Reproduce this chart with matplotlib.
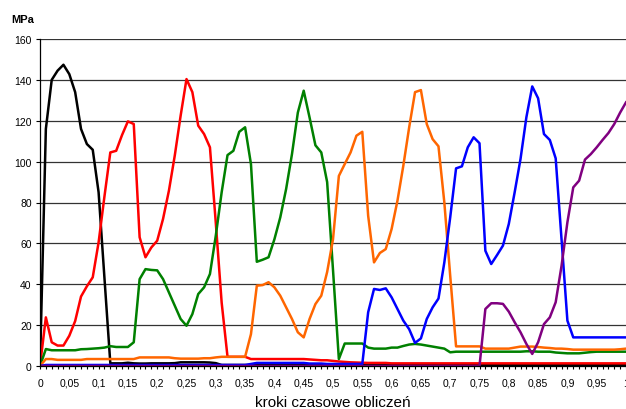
import numpy as np
import matplotlib
matplotlib.use('Agg')
import matplotlib.pyplot as plt
from matplotlib.ticker import FixedLocator, FixedFormatter

plt.rcParams['font.family'] = ['Liberation Sans', 'DejaVu Sans']

# kroki czasowe 0..1 co 0.01
kroki = np.round(np.arange(101) * 0.01, 2)

czarny = [0, 116, 140, 144.5, 147.4, 142.8, 134, 116, 108.6, 105.8,
          85, 43, 1.3, 1.3, 1.3, 1.6, 1.3, 1.2, 1.2, 1.3,
          1.3, 1.3, 1.3, 1.4, 1.8, 1.8, 1.8, 1.8, 1.8, 1.7,
          1.4, 0.5, 0.5, 0.5, 0.5, 0.5, 0.5, 0.5, 0.5, 0.5,
          0.5, 0.5, 0.5, 0.5, 0.5, 0.5, 0.5, 0.5, 0.5, 0.5,
          0.5, 0.5, 0.5, 0.5, 0.5, 0.5, 0.5, 0.5, 0.5, 0.5,
          0.5, 0.5, 0.5, 0.5, 0.5, 0.5, 0.5, 0.5, 0.5, 0.5,
          0.5, 0.5, 0.5, 0.5, 0.5, 0.5, 0.5, 0.5, 0.5, 0.5,
          0.5, 0.5, 0.5, 0.5, 0.5, 0.5, 0.5, 0.5, 0.5, 0.5,
          0.5, 0.5, 0.5, 0.5, 0.5, 0.5, 0.5, 0.5, 0.5, 0.5,
          0.5]

czerwony = [0, 23.8, 11.6, 10, 10, 14.8, 22, 34, 39, 43.4,
            60.5, 83, 104.5, 105.3, 113, 119.7, 118.4, 63, 53.2, 58,
            61.3, 72, 85.8, 103, 122.5, 140.4, 134, 117.6, 113.5, 107,
            70, 31, 4.5, 4.5, 4.5, 4.5, 3.4, 3.4, 3.4, 3.4,
            3.4, 3.4, 3.4, 3.4, 3.4, 3.4, 3.2, 3.0, 2.8, 2.8,
            2.5, 2.2, 2.0, 1.8, 1.7, 1.6, 1.5, 1.5, 1.5, 1.5,
            1.3, 1.3, 1.3, 1.3, 1.3, 1.3, 1.3, 1.3, 1.3, 1.3,
            1.3, 1.3, 1.3, 1.3, 1.3, 1.3, 1.3, 1.3, 1.3, 1.3,
            1.3, 1.3, 1.3, 1.3, 1.3, 1.3, 1.3, 1.3, 1.3, 1.3,
            1.3, 1.3, 1.3, 1.3, 1.3, 1.3, 1.3, 1.3, 1.3, 1.3,
            1.3]

zielony = [0, 8.3, 7.7, 7.7, 7.7, 7.7, 7.7, 8.2, 8.3, 8.5,
           8.7, 9.0, 9.7, 9.3, 9.3, 9.3, 11.6, 42.5, 47.4, 47,
           46.8, 42.5, 36, 29.5, 23, 19.7, 25.4, 35.2, 38.5, 45,
           63.8, 85, 103.2, 105.3, 114.6, 116.8, 98.8, 51, 52, 53.2,
           62, 72.7, 86.6, 103.7, 124, 134.7, 121.6, 108, 104.5, 90,
           47, 3.4, 11, 11, 11, 11, 9, 8.5, 8.5, 8.5,
           9, 9, 9.8, 10.5, 10.8, 10.5, 10, 9.5, 9, 8.5,
           6.7, 7, 7, 7, 7, 7, 7, 7, 7, 7,
           7, 7, 7, 7.2, 7.2, 7, 7, 7, 6.6, 6.4,
           6.2, 6.2, 6.2, 6.5, 6.8, 7, 7, 7, 7, 7,
           7]

pomaranczowy = [0, 3.4, 3.4, 3, 3, 3, 3, 3, 3.4, 3.4,
                3.4, 3.4, 3.4, 3.4, 3.4, 3.4, 3.4, 4.2, 4.2, 4.2,
                4.2, 4.2, 4.2, 3.8, 3.6, 3.6, 3.6, 3.6, 3.8, 3.8,
                4.2, 4.5, 4.5, 4.5, 4.5, 4.5, 15.6, 39.3, 39.6, 41,
                38.5, 34.4, 28.7, 23, 16.5, 14, 23, 30.3, 34.4, 46,
                62, 93, 98.8, 104.5, 112.7, 114.6, 73.5, 50.7, 55.3, 57.2,
                67, 80.9, 98, 116.8, 134, 135, 118.4, 111, 107.5, 80,
                44.2, 9.6, 9.6, 9.6, 9.6, 9.6, 8.5, 8.5, 8.5, 8.5,
                8.5, 9, 9.5, 9.5, 9.5, 9.3, 9, 8.8, 8.5, 8.5,
                8.3, 8, 8, 8, 8, 8, 8, 8, 8, 8.2,
                8.5]

niebieski = [0, 0.5, 0.5, 0.5, 0.5, 0.5, 0.5, 0.5, 0.5, 0.5,
             0.5, 0.5, 0.5, 0.5, 0.5, 0.5, 0.5, 0.5, 0.5, 0.5,
             0.5, 0.5, 0.5, 0.5, 0.5, 0.5, 0.5, 0.5, 0.5, 0.5,
             0.5, 0.5, 0.5, 0.5, 0.5, 0.5, 1.0, 1.5, 1.5, 1.5,
             1.5, 1.5, 1.5, 1.5, 1.5, 1.5, 1.2, 1.2, 1.2, 1.0,
             1.0, 1.0, 1.0, 1.0, 1.0, 1.0, 26.3, 37.7, 37.2, 38,
             33.6, 27.9, 22.2, 18, 11.3, 13.5, 23, 28.7, 33, 50.7,
             72.7, 96.7, 97.7, 107, 111.9, 109, 56.4, 49.9, 54.3, 58.9,
             69.5, 85, 101.3, 121.7, 136.8, 131, 113.5, 110.6, 101.6, 62,
             22.2, 14, 14, 14, 14, 14, 14, 14, 14, 14,
             14]

fioletowy = [0, 0, 0, 0, 0, 0, 0, 0, 0, 0,
             0, 0, 0, 0, 0, 0, 0, 0, 0, 0,
             0, 0, 0, 0, 0, 0, 0, 0, 0, 0,
             0, 0, 0, 0, 0, 0, 0, 0, 0, 0,
             0, 0, 0, 0, 0, 0, 0, 0, 0, 0,
             0, 0, 0, 0, 0, 0, 0, 0, 0, 0,
             0, 0, 0, 0, 0, 0, 0, 0, 0, 0,
             0, 0, 0, 0, 0, 0, 27.9, 30.7, 30.7, 30.4,
             26.6, 21.4, 16.5, 10.8, 5.9, 11.6, 20.5, 23.8, 31.2, 49,
             70.3, 87.4, 90.7, 101, 103.7, 107, 110.6, 114, 118.4, 124,
             129]

x_ticks = [0, 0.05, 0.1, 0.15, 0.2, 0.25, 0.3, 0.35, 0.4, 0.45, 0.5,
           0.55, 0.6, 0.65, 0.7, 0.75, 0.8, 0.85, 0.9, 0.95, 1]
x_labels = ['0', '0,05', '0,1', '0,15', '0,2', '0,25', '0,3', '0,35', '0,4', '0,45', '0,5',
            '0,55', '0,6', '0,65', '0,7', '0,75', '0,8', '0,85', '0,9', '0,95', '1']
y_ticks = [0, 20, 40, 60, 80, 100, 120, 140, 160]

fig = plt.figure(figsize=(6.26, 4.10), dpi=100)
ax = fig.add_axes([40 / 626, 43 / 410, 586 / 626, 327 / 410])

lw = 1.8
ax.plot(kroki, czarny, color='black', lw=lw)
ax.plot(kroki, czerwony, color='#ff0000', lw=lw)
ax.plot(kroki, zielony, color='#008000', lw=lw)
ax.plot(kroki, pomaranczowy, color='#ff6600', lw=lw)
ax.plot(kroki, niebieski, color='#0000ff', lw=lw)
ax.plot(kroki, fioletowy, color='#800080', lw=lw)

ax.set_xlim(0, 1)
ax.set_ylim(0, 160)
ax.set_yticks(y_ticks)
ax.yaxis.grid(True, color='#333333', lw=0.9)
ax.set_axisbelow(True)

ax.xaxis.set_major_locator(FixedLocator(x_ticks))
ax.xaxis.set_major_formatter(FixedFormatter(x_labels))
ax.xaxis.set_minor_locator(FixedLocator(kroki))
ax.tick_params(axis='x', which='both', direction='out', length=2.5, width=0.8,
               labelsize=7.5, pad=6)
ax.tick_params(axis='y', direction='out', length=3, width=0.8, labelsize=7.5, pad=3)

for s in ['top', 'right']:
    ax.spines[s].set_visible(False)
ax.spines['left'].set_linewidth(0.9)
ax.spines['bottom'].set_linewidth(0.9)

ax.set_xlabel('kroki czasowe obliczeń', fontsize=11, labelpad=5)
fig.text(11 / 626, 1 - 20 / 410, 'MPa', fontsize=8, fontweight='bold', va='center')

fig.savefig('out.png', dpi=100)
